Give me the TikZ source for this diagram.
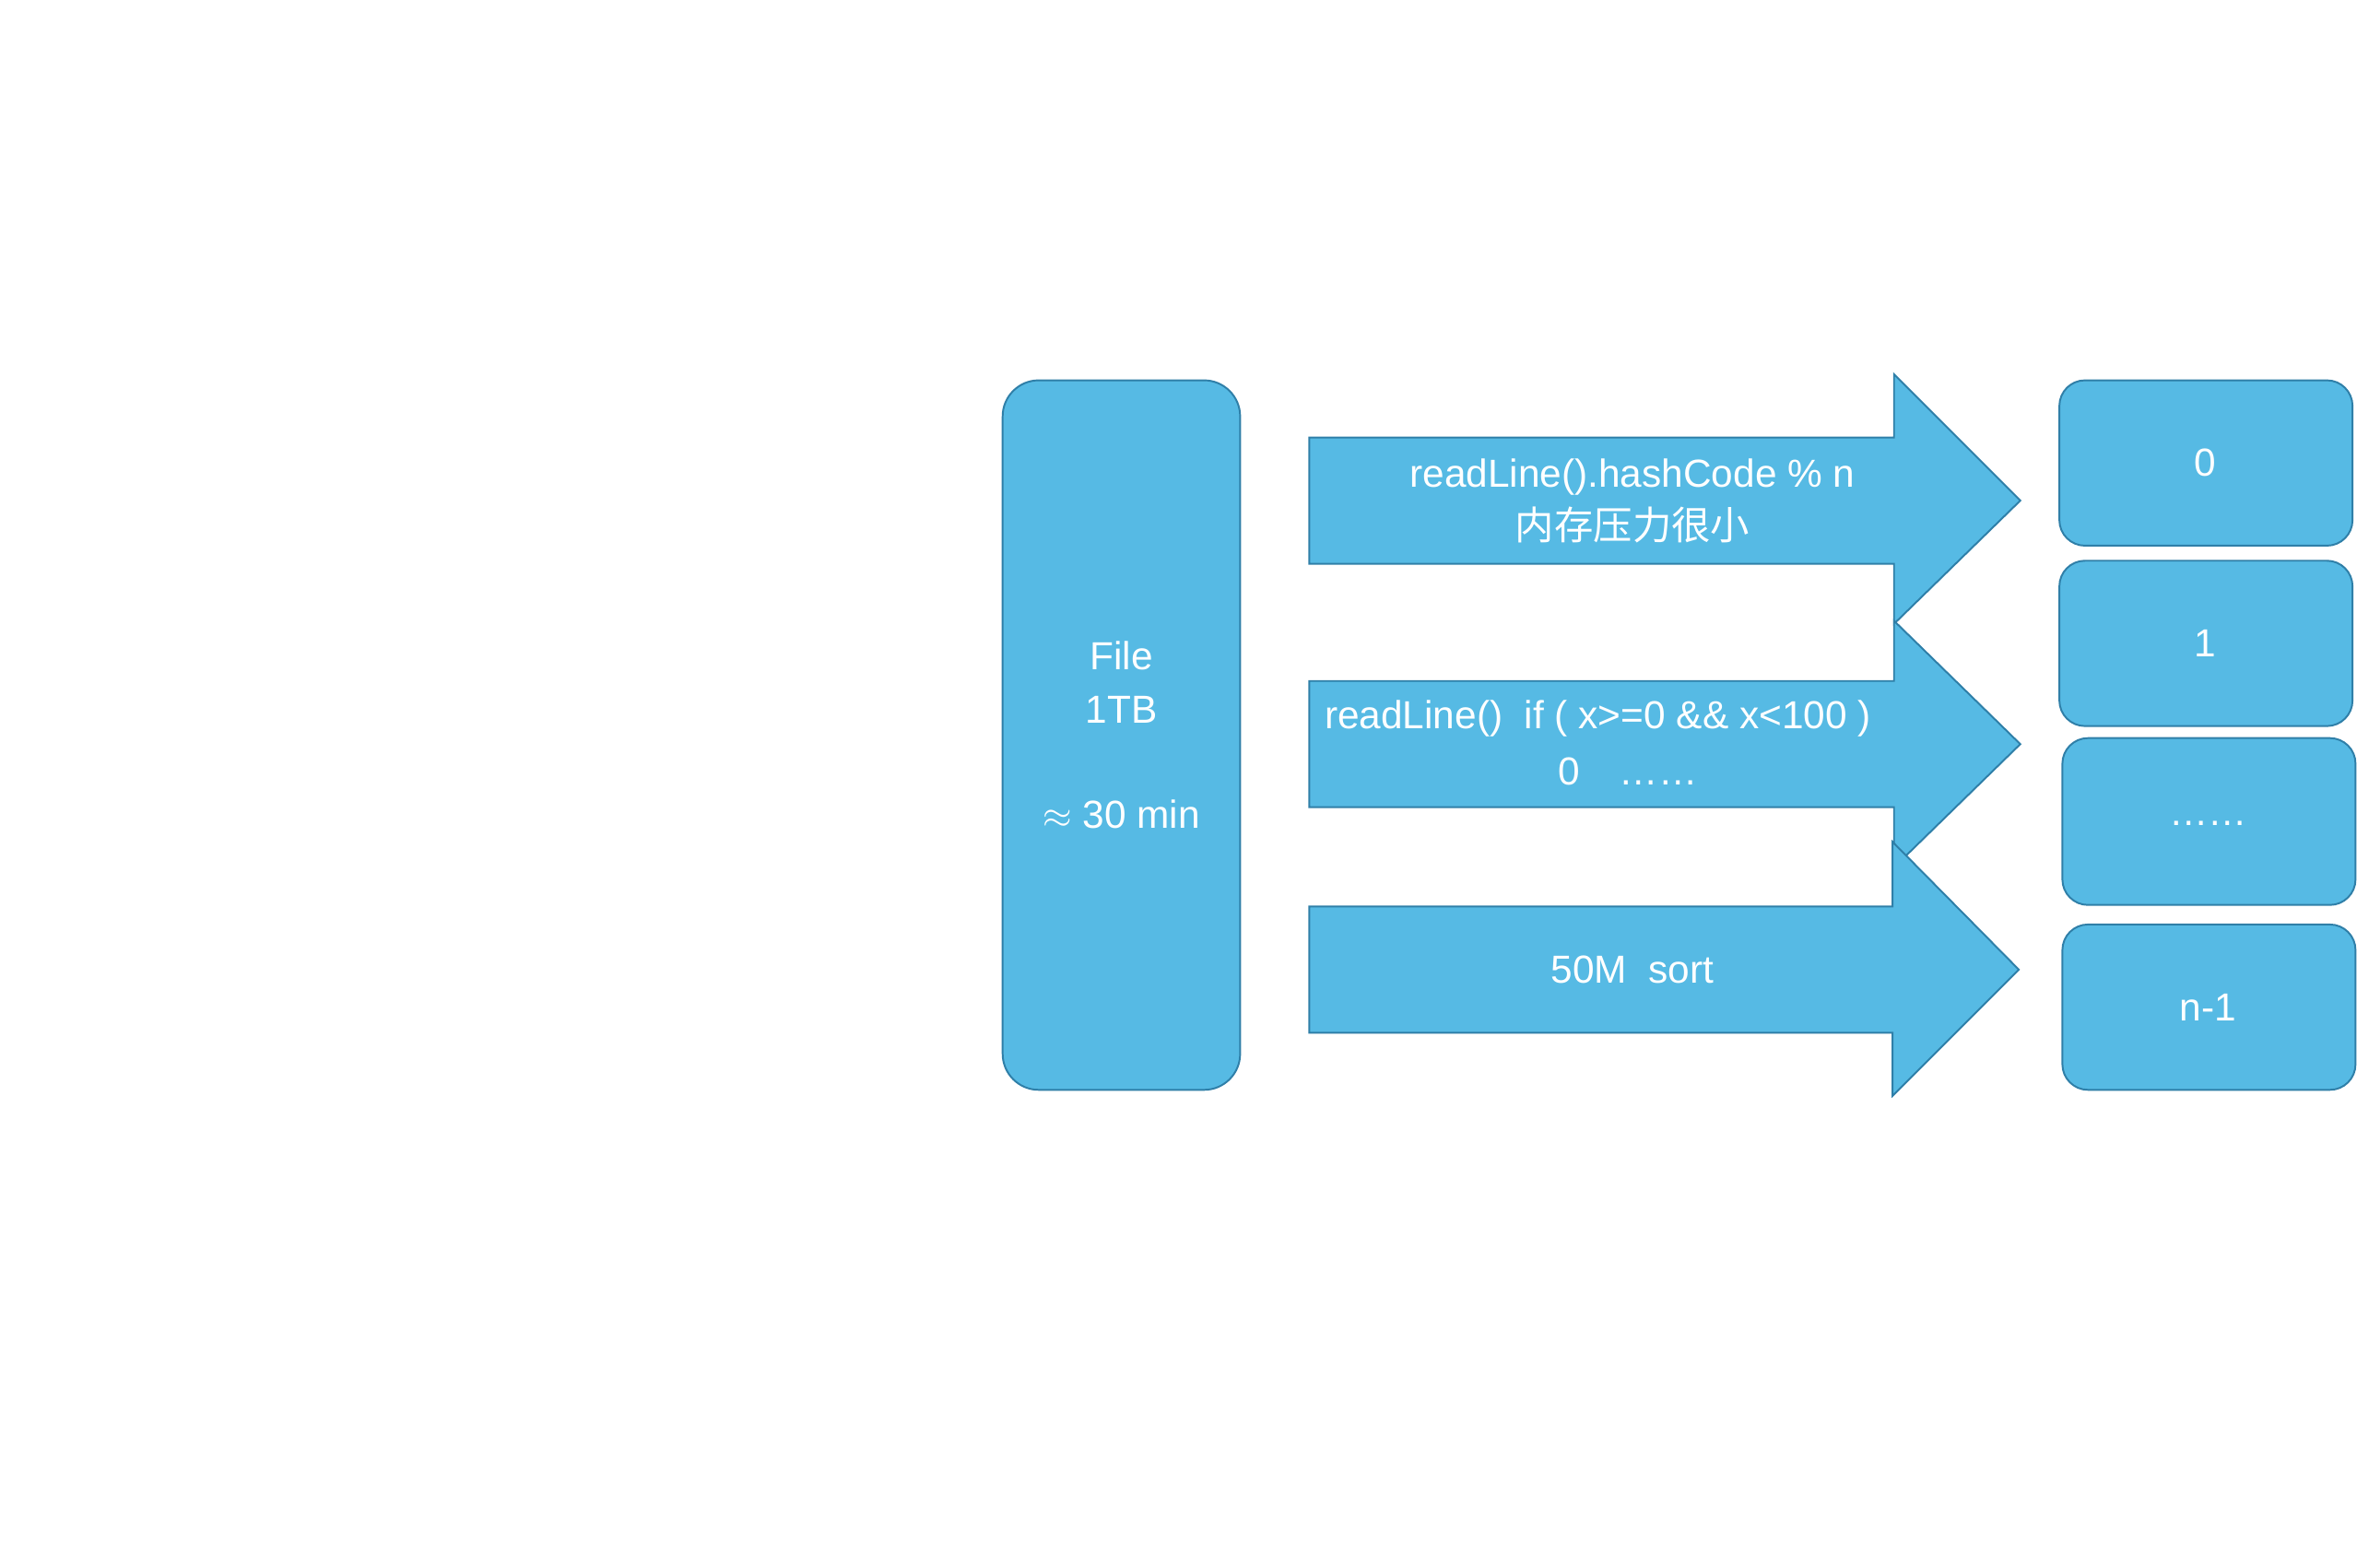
\documentclass[tikz,border=0pt]{standalone}
\usepackage{fontspec}
\setmainfont{Liberation Sans}
\newfontfamily\cjk{Noto Sans CJK SC}
\definecolor{boxFill}{HTML}{56BAE4}
\definecolor{boxLine}{HTML}{2F7FA8}
\begin{document}
\begin{tikzpicture}[
        x={(1pt,0pt)}, y={(0pt,-1pt)},
        block/.style={fill=boxFill, draw=boxLine, line width=1.2pt, rounded corners=24pt},
        bucket/.style={fill=boxFill, draw=boxLine, line width=1.2pt, rounded corners=17pt},
        fatArrow/.style={fill=boxFill, draw=boxLine, line width=1.2pt, line join=miter},
        label/.style={text=white, align=center, font=\fontsize{26}{35}\selectfont, inner sep=0pt}
    ]
    \useasboundingbox (0,0) rectangle (1568,1043);

    % --- File ---
    \draw[block] (667,253) rectangle (825,725);
    \node[label] (file) at (746,489) {File\\1TB\\[35pt]$\approx$ 30 min};

    % --- arrows ---
    \draw[fatArrow] (871,291) -- (1260,291) -- (1260,249) -- (1344,333) -- (1260,415)
        -- (1260,375) -- (871,375) -- cycle;
    \draw[fatArrow] (871,453) -- (1260,453) -- (1260,413) -- (1344,495) -- (1260,577)
        -- (1260,537) -- (871,537) -- cycle;
    \draw[fatArrow] (871,603) -- (1259,603) -- (1259,560) -- (1343,645) -- (1259,729)
        -- (1259,687) -- (871,687) -- cycle;

    \node[label] (hash) at (1086,333) {readLine().hashCode \% n\\{\cjk 内存压力很小}};
    \node[label, align=left, anchor=west] (range) at (881,478) {readLine()\ \ if ( x>=0 \&\& x<100 )};
    \node[label] (rangeB) at (1083,513) {0\quad ……};
    \node[label] (sorting) at (1086,645) {50M\ \ sort};

    % --- buckets ---
    \draw[bucket] (1370,253) rectangle (1565,363);
    \draw[bucket] (1370,373) rectangle (1565,483);
    \draw[bucket] (1372,491) rectangle (1567,602);
    \draw[bucket] (1372,615) rectangle (1567,725);
    \node[label] (b0) at (1467,308) {0};
    \node[label] (b1) at (1467,428) {1};
    \node[label] (bDots) at (1469,548) {……};
    \node[label] (bLast) at (1469,670) {n-1};
\end{tikzpicture}
\end{document}
